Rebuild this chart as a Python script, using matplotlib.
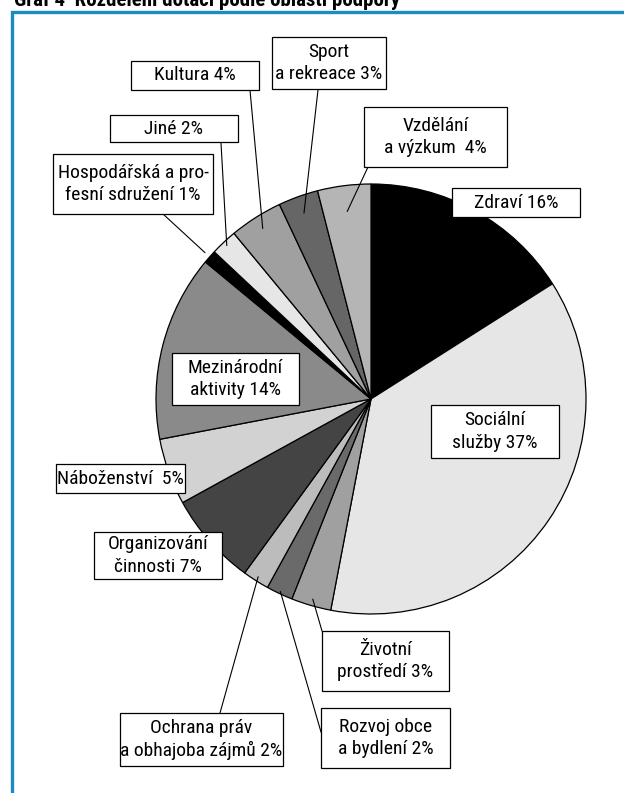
import matplotlib
matplotlib.use("Agg")
import matplotlib.pyplot as plt
from matplotlib.patches import Rectangle
import numpy as np

# pie data, clockwise from 12 o'clock
categories = ["Zdraví", "Sociální služby", "Životní prostředí", "Rozvoj obce a bydlení",
              "Ochrana práv a obhajoba zájmů", "Organizování činnosti", "Náboženství",
              "Mezinárodní aktivity", "Hospodářská a profesní sdružení", "Jiné",
              "Kultura", "Sport a rekreace", "Vzdělání a výzkum"]
shares = [16, 37, 3, 2, 2, 7, 5, 14, 1, 2, 4, 3, 4]
label_texts = ["Zdraví 16%", "Sociální\nslužby 37%", "Životní\nprostředí 3%",
               "Rozvoj obce\na bydlení 2%", "Ochrana práv\na obhajoba zájmů 2%",
               "Organizování\nčinnosti 7%", "Náboženství  5%", "Mezinárodní\naktivity 14%",
               "Hospodářská a pro-\nfesní sdružení 1%", "Jiné 2%", "Kultura 4%",
               "Sport\na rekreace 3%", "Vzdělání\na výzkum  4%"]
colors = ["#000000", "#e6e6e6", "#a0a0a0", "#6a6a6a", "#bcbcbc", "#444444", "#d2d2d2",
          "#8a8a8a", "#000000", "#e6e6e6", "#a0a0a0", "#666666", "#b5b5b5"]

title = "Graf 4  Rozdělení dotací podle oblastí podpory"

# label box layout in pixels (left, top, right, bottom), image coords (y down)
boxes = [(452, 188, 580, 217), (431, 405, 559, 458), (322, 631, 449, 691),
         (321, 708, 450, 768), (120, 713, 283, 766), (94, 532, 222, 579),
         (56, 464, 185, 493), (172, 353, 299, 405), (53, 154, 213, 214),
         (110, 115, 238, 142), (131, 61, 259, 90), (272, 37, 386, 89),
         (364, 107, 507, 167)]
# leader lines: (radius factor of anchor inside slice, box attach point) or None
leaders = [None, None, (0.97, (322, 631)), (0.99, (321, 732)), (0.98, (220, 713)),
           None, None, None, (1.03, (163, 214)), (0.98, (221, 143)),
           (0.94, (250, 90)), (0.92, (318, 90)), (0.88, (368, 167))]

W, H = 624, 793
fig = plt.figure(figsize=(W / 100, H / 100), dpi=100)
ax = fig.add_axes([0, 0, 1, 1])

cx, cy, r = 371, H - 399, 215
wedges, _ = ax.pie(shares, colors=colors, startangle=90, counterclock=False,
                   center=(cx, cy), radius=r, frame=True,
                   wedgeprops=dict(edgecolor="black", linewidth=0.9))

fam = ["Roboto Condensed", "Roboto", "DejaVu Sans"]
for i, w in enumerate(wedges):
    x0, y0, x1, y1 = boxes[i]
    ax.add_patch(Rectangle((x0, H - y1), x1 - x0, y1 - y0, facecolor="white",
                           edgecolor="black", linewidth=0.9, zorder=4))
    ax.text((x0 + x1) / 2, H - (y0 + y1) / 2, label_texts[i], ha="center", va="center",
            fontsize=14, family=fam, linespacing=1.3, zorder=5)
    if leaders[i] is not None:
        f, (bx, by) = leaders[i]
        mid = np.deg2rad((w.theta1 + w.theta2) / 2)
        ax.plot([cx + f * r * np.cos(mid), bx], [cy + f * r * np.sin(mid), H - by],
                color="black", linewidth=0.8, zorder=3)

# blue frame (left and top)
ax.plot([12, 12, W], [0, H - 12, H - 12], color="#1b8bc6", linewidth=2.4,
        solid_joinstyle="miter", zorder=6)

# title, mostly cut off at the top edge
ax.text(14, H - 6, title, ha="left", va="baseline", fontsize=15, fontweight="bold",
        family=fam, zorder=6)

ax.set_xlim(0, W)
ax.set_ylim(0, H)
ax.axis("off")
fig.savefig("out.png", dpi=100)
